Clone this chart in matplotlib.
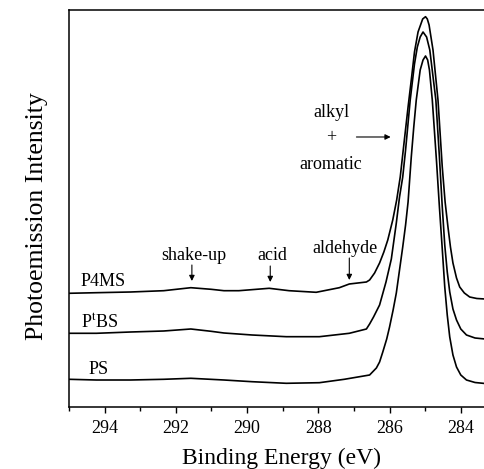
import numpy as np
import matplotlib.pyplot as plt
from matplotlib.ticker import MultipleLocator

plt.rcParams['font.family'] = ['Liberation Serif', 'DejaVu Serif']
plt.rcParams['mathtext.fontset'] = 'stix'

# C 1s spectra: binding energy (eV) and intensity (arb. units)
p4ms_energy = [295.0, 294.23, 293.27, 292.34, 291.58, 291.01, 290.65, 290.23, 289.38,
               288.82, 288.06, 287.41, 287.13, 286.65, 286.56, 286.42, 286.28, 286.16,
               286.05, 285.91, 285.80, 285.70, 285.60, 285.48, 285.38, 285.30, 285.20,
               285.13, 285.07, 284.99, 284.94, 284.89, 284.78, 284.64, 284.52, 284.44,
               284.36, 284.29, 284.22, 284.12, 284.03, 283.90, 283.75, 283.55, 283.32]
p4ms_intensity = [113.7, 114.3, 115.0, 116.3, 119.3, 117.7, 116.3, 116.3, 118.7,
                  116.3, 114.7, 119.3, 123.0, 125.0, 127.0, 134.0, 144.0, 155.0,
                  167.0, 187.0, 207.0, 230.0, 262.0, 300.0, 330.0, 355.0, 375.0,
                  382.0, 388.0, 390.3, 388.0, 382.0, 357.0, 307.0, 240.0, 205.0,
                  180.0, 160.0, 144.0, 129.0, 120.0, 114.0, 110.0, 108.5, 108.0]

ptbs_energy = [295.0, 294.23, 293.27, 292.34, 291.58, 291.01, 290.65, 289.86, 288.90,
               287.97, 287.13, 286.65, 286.56, 286.45, 286.28, 286.10, 285.95, 285.81,
               285.72, 285.63, 285.55, 285.42, 285.30, 285.22, 285.14, 285.06, 284.96,
               284.87, 284.70, 284.60, 284.52, 284.45, 284.38, 284.31, 284.22, 284.12,
               284.00, 283.84, 283.60, 283.32]
ptbs_intensity = [73.7, 73.7, 75.0, 76.0, 78.0, 75.7, 74.0, 72.0, 70.3,
                  70.3, 73.7, 78.0, 83.0, 90.0, 102.0, 125.0, 148.0, 184.0,
                  210.0, 230.0, 257.0, 307.0, 343.0, 360.0, 370.0, 375.0, 370.0,
                  357.0, 307.0, 250.0, 200.0, 162.0, 135.0, 115.0, 98.0, 87.0,
                  78.0, 72.0, 69.0, 68.0]

ps_energy = [295.0, 294.23, 293.27, 292.34, 291.58, 290.65, 289.86, 288.90, 287.97,
             287.27, 286.56, 286.37, 286.28, 286.19, 286.08, 286.00, 285.90, 285.81,
             285.72, 285.63, 285.55, 285.48, 285.39, 285.32, 285.25, 285.14, 285.06,
             284.99, 284.93, 284.88, 284.80, 284.68, 284.60, 284.52, 284.45, 284.38,
             284.31, 284.22, 284.12, 284.00, 283.84, 283.60, 283.32]
ps_intensity = [27.7, 27.0, 27.0, 27.7, 28.7, 27.0, 25.3, 23.7, 24.3,
                27.7, 32.0, 39.0, 45.0, 55.0, 68.0, 80.0, 97.0, 114.0,
                137.0, 160.0, 182.0, 205.0, 250.0, 280.0, 307.0, 337.0, 347.0,
                351.0, 347.0, 337.0, 307.0, 245.0, 200.0, 158.0, 120.0, 92.0,
                70.0, 52.0, 40.0, 32.0, 27.0, 24.5, 23.5]

x_ticks = [294, 292, 290, 288, 286, 284]


fig = plt.figure(figsize=(4.85, 4.69), dpi=100)
ax = fig.add_axes([0.1423, 0.1322, 0.8577, 0.8465])

for e, i in [(p4ms_energy, p4ms_intensity),
             (ptbs_energy, ptbs_intensity),
             (ps_energy, ps_intensity)]:
    ax.plot(e, i, color='black', lw=1.2, solid_joinstyle='round')

ax.set_xlim(295.0, 283.32)
ax.set_ylim(0, 397)

ax.spines['right'].set_visible(False)
for s in ['top', 'left', 'bottom']:
    ax.spines[s].set_linewidth(1.1)

ax.set_xticks(x_ticks)
ax.xaxis.set_minor_locator(MultipleLocator(1))
ax.tick_params(axis='x', which='major', direction='out', length=4.5, width=1.0,
               labelsize=13, pad=5)
ax.tick_params(axis='x', which='minor', direction='out', length=3, width=1.0)
ax.set_yticks([])

# series labels
ax.text(294.03, 125, 'P4MS', fontsize=13, ha='center', va='center')
ax.text(294.14, 84, r'P$^\mathrm{t}$BS', fontsize=13, ha='center', va='center')
ax.text(294.16, 37, 'PS', fontsize=13, ha='center', va='center')

# feature labels with arrows
arrow = dict(arrowstyle='-|>', color='black', lw=0.8, mutation_scale=8,
             shrinkA=0, shrinkB=0)
ax.text(291.49, 151, 'shake-up', fontsize=13, ha='center', va='center')
ax.annotate('', xy=(291.55, 126), xytext=(291.55, 142), arrowprops=arrow)
ax.text(289.30, 151, 'acid', fontsize=13, ha='center', va='center')
ax.annotate('', xy=(289.35, 125), xytext=(289.35, 141), arrowprops=arrow)
ax.text(287.25, 158, 'aldehyde', fontsize=13, ha='center', va='center')
ax.annotate('', xy=(287.13, 127), xytext=(287.13, 149), arrowprops=arrow)

ax.text(287.63, 294, 'alkyl', fontsize=13, ha='center', va='center')
ax.text(287.63, 269, '+', fontsize=13, ha='center', va='center')
ax.text(287.66, 242, 'aromatic', fontsize=13, ha='center', va='center')
ax.annotate('', xy=(285.97, 270), xytext=(286.93, 270), arrowprops=arrow)

fig.text(282 / 485, 1 - 458 / 469, 'Binding Energy (eV)', fontsize=17,
         ha='center', va='center')
fig.text(37 / 485, 1 - 216 / 469, 'Photoemission Intensity', fontsize=18.5,
         ha='center', va='center', rotation=90)

fig.savefig('out.png', dpi=100)
